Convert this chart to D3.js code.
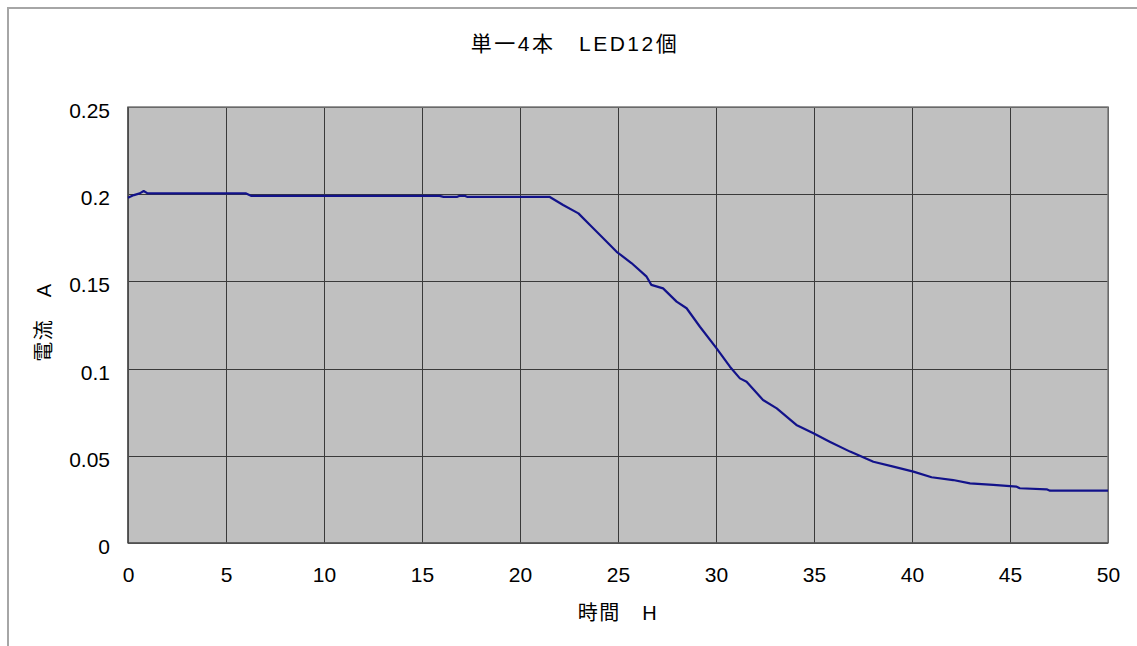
<!DOCTYPE html>
<html>
<head>
<meta charset="utf-8">
<script src="https://cdn.jsdelivr.net/npm/d3@7"></script>
<style>
  html, body { margin: 0; padding: 0; background: #ffffff; }
  svg { display: block; }
  text { font-family: "Liberation Sans", Arial, "Noto Sans CJK JP", sans-serif; fill: #000; }
</style>
</head>
<body>
<svg id="chart" width="1137" height="646"></svg>
<script>
// ---- data ----
const chartTitle = "単一4本　LED12個";
const xAxisTitle = "時間　H";
const yAxisTitle = "電流　A";
const xTickValues = [0, 5, 10, 15, 20, 25, 30, 35, 40, 45, 50];
const yTickValues = [0, 0.05, 0.1, 0.15, 0.2, 0.25];
const yTickLabels = ["0", "0.05", "0.1", "0.15", "0.2", "0.25"];
const timeH = [0, 0.3, 0.6, 0.8, 1.0, 1.5, 3, 6.0, 6.3, 10, 15.9, 16.1, 16.8, 16.9, 17.2, 17.3, 21.5,
  22.2, 22.98, 23.57, 24.17, 24.93, 25.7, 26.46, 26.7, 27.3, 27.99, 28.5, 29.18, 30.03, 30.71,
  31.22, 31.56, 32.4, 33.1, 34.1, 34.97, 35.8, 36.84, 38.03, 39.05, 40.07, 41.0, 42.1, 42.96,
  44.15, 45.34, 45.5, 46.87, 47.04, 50];
const currentA = [0.198, 0.1995, 0.2005, 0.2018, 0.2005, 0.2005, 0.2005, 0.2005, 0.199, 0.199, 0.199, 0.1985, 0.1985, 0.199, 0.199, 0.1985, 0.1985,
  0.1938, 0.189, 0.1823, 0.1756, 0.167, 0.1604, 0.1527, 0.148, 0.146, 0.1384, 0.1346, 0.124, 0.1116, 0.1011,
  0.0944, 0.0925, 0.082, 0.0772, 0.0677, 0.0629, 0.0581, 0.0524, 0.0466, 0.0438, 0.0409, 0.0377, 0.0361, 0.0342,
  0.0333, 0.0323, 0.0314, 0.0308, 0.0300, 0.0300];

// ---- layout ----
const svg = d3.select("#chart");
const plot = { left: 128, right: 1108, top: 107, bottom: 543 };

// outer chart border
svg.append("rect")
  .attr("x", 8).attr("y", 8)
  .attr("width", 1160).attr("height", 660)
  .attr("fill", "#ffffff")
  .attr("stroke", "#a6a6a6").attr("stroke-width", 2);

const x = d3.scaleLinear().domain([0, 50]).range([plot.left, plot.right]);
const y = d3.scaleLinear().domain([0, 0.25]).range([plot.bottom, plot.top]);

// plot background
svg.append("rect")
  .attr("x", plot.left).attr("y", plot.top)
  .attr("width", plot.right - plot.left).attr("height", plot.bottom - plot.top)
  .attr("fill", "#c0c0c0");

// gridlines
const gridX = svg.append("g")
  .attr("transform", `translate(0,${plot.bottom})`)
  .call(d3.axisBottom(x).tickValues(xTickValues).tickSize(-(plot.bottom - plot.top)).tickFormat(""));
gridX.select(".domain").remove();
gridX.selectAll("line").attr("stroke", "#3a3a3a").attr("stroke-width", 1).attr("shape-rendering", "crispEdges");

const gridY = svg.append("g")
  .attr("transform", `translate(${plot.left},0)`)
  .call(d3.axisLeft(y).tickValues(yTickValues).tickSize(-(plot.right - plot.left)).tickFormat(""));
gridY.select(".domain").remove();
gridY.selectAll("line").attr("stroke", "#3a3a3a").attr("stroke-width", 1).attr("shape-rendering", "crispEdges");

// plot border
svg.append("rect")
  .attr("x", plot.left).attr("y", plot.top)
  .attr("width", plot.right - plot.left).attr("height", plot.bottom - plot.top)
  .attr("fill", "none")
  .attr("stroke", "#7a7a7a").attr("stroke-width", 1.5);

// axis lines (left & bottom darker)
svg.append("line").attr("x1", plot.left).attr("x2", plot.left).attr("y1", plot.top).attr("y2", plot.bottom)
  .attr("stroke", "#3a3a3a").attr("stroke-width", 1.2);
svg.append("line").attr("x1", plot.left).attr("x2", plot.right).attr("y1", plot.bottom).attr("y2", plot.bottom)
  .attr("stroke", "#3a3a3a").attr("stroke-width", 1.2);

// tick labels
const axX = svg.append("g")
  .attr("transform", `translate(0,${plot.bottom})`)
  .call(d3.axisBottom(x).tickValues(xTickValues).tickSize(0).tickPadding(24).tickFormat(d3.format("d")));
axX.select(".domain").remove();
axX.selectAll("text").attr("font-size", 21).attr("font-family", "'Liberation Sans', Arial, sans-serif").attr("fill", "#000");

const axY = svg.append("g")
  .attr("transform", `translate(${plot.left},0)`)
  .call(d3.axisLeft(y).tickValues(yTickValues).tickSize(0).tickPadding(18)
    .tickFormat((d, i) => yTickLabels[i]));
axY.select(".domain").remove();
axY.selectAll("text").attr("font-size", 21).attr("dy", "0.5em").attr("font-family", "'Liberation Sans', Arial, sans-serif").attr("fill", "#000");

// data line
const line = d3.line().x((d, i) => x(timeH[i])).y((d) => y(d));
svg.append("path")
  .datum(currentA)
  .attr("d", line)
  .attr("fill", "none")
  .attr("stroke", "#12128a")
  .attr("stroke-width", 2.2)
  .attr("stroke-linejoin", "round");

// titles
svg.append("text")
  .attr("x", 575).attr("y", 51)
  .attr("text-anchor", "middle")
  .attr("font-size", 21)
  .attr("letter-spacing", 2.5)
  .text(chartTitle);

svg.append("text")
  .attr("x", 618).attr("y", 620)
  .attr("text-anchor", "middle")
  .attr("font-size", 20)
  .attr("letter-spacing", 1.5)
  .text(xAxisTitle);

svg.append("text")
  .attr("transform", "translate(51,322) rotate(-90)")
  .attr("text-anchor", "middle")
  .attr("font-size", 20)
  .attr("letter-spacing", 1.5)
  .text(yAxisTitle);
</script>
</body>
</html>
